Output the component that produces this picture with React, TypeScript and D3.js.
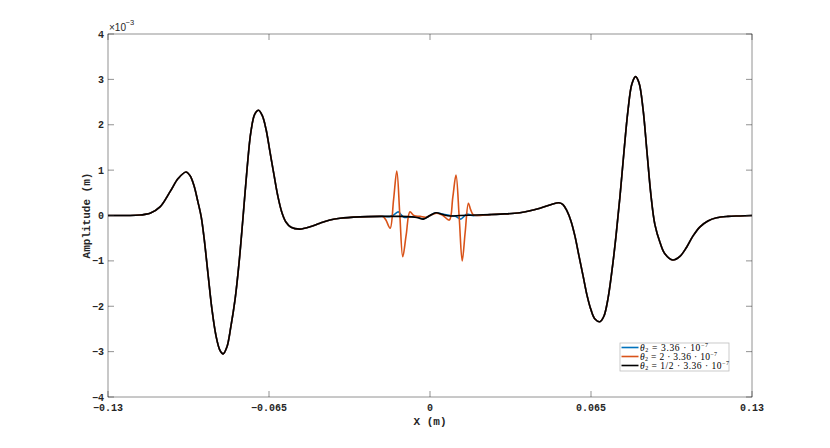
import React from "react";
import * as d3 from "d3";

// Shared outer wave (all three series coincide here), x in m, amplitude in 1e-3 m
const leftX = [-0.13, -0.1211, -0.1171, -0.1151, -0.113, -0.109, -0.105, -0.1016, -0.0985, -0.0969, -0.0953, -0.0937, -0.0924, -0.0912, -0.0896, -0.088, -0.0864, -0.0848, -0.0835, -0.082, -0.0804, -0.0787, -0.0771, -0.0755, -0.0739, -0.0723, -0.0707, -0.0692, -0.0677, -0.0662, -0.0646, -0.063, -0.0614, -0.0597, -0.0581, -0.0561, -0.0525, -0.0484, -0.0444, -0.0404, -0.0363, -0.0283, -0.0202];
const leftY = [0, 0, 0.01, 0.025, 0.05, 0.19, 0.52, 0.82, 0.96, 0.88, 0.66, 0.3, -0.02, -0.5, -1.3, -2.08, -2.65, -2.97, -3.05, -2.9, -2.45, -1.85, -1.05, -0.05, 1.0, 1.85, 2.24, 2.32, 2.2, 1.9, 1.4, 0.9, 0.42, 0.05, -0.15, -0.26, -0.3, -0.25, -0.17, -0.1, -0.06, -0.03, -0.02];

const rightX = [0.0242, 0.0283, 0.0363, 0.0444, 0.0493, 0.0521, 0.0537, 0.0553, 0.0569, 0.0585, 0.0601, 0.0618, 0.0634, 0.065, 0.0666, 0.0686, 0.0702, 0.0718, 0.0735, 0.0751, 0.0767, 0.0783, 0.0799, 0.0815, 0.083, 0.0844, 0.086, 0.0876, 0.0892, 0.0908, 0.0929, 0.0949, 0.098, 0.1009, 0.1036, 0.1062, 0.109, 0.1122, 0.1157, 0.1203, 0.1252, 0.13];
const rightY = [0.02, 0.03, 0.06, 0.16, 0.25, 0.28, 0.24, 0.1, -0.12, -0.45, -0.88, -1.33, -1.76, -2.08, -2.28, -2.34, -2.22, -1.85, -1.2, -0.45, 0.42, 1.4, 2.3, 2.9, 3.06, 2.92, 2.35, 1.4, 0.45, -0.2, -0.6, -0.85, -0.98, -0.9, -0.7, -0.45, -0.25, -0.12, -0.05, -0.02, -0.01, 0];

// Centre region, per series
const blueCX = [-0.019, -0.0161, -0.0145, -0.0128, -0.0117, -0.0105, -0.0081, -0.0057, -0.0027, 0.0, 0.0024, 0.0052, 0.0081, 0.0105, 0.0124, 0.0137, 0.0149, 0.017, 0.0186];
const blueCY = [-0.02, -0.02, 0.02, 0.08, 0.02, -0.04, -0.03, -0.03, -0.07, 0.0, 0.06, 0.03, 0.0, -0.02, -0.08, -0.02, 0.03, 0.0, 0.0];

const orangeCX = [-0.019, -0.0178, -0.0161, -0.0147, -0.0134, -0.0122, -0.011, -0.0096, -0.0081, -0.0065, -0.004, -0.0016, 0.0008, 0.0028, 0.0052, 0.0078, 0.0092, 0.0105, 0.0118, 0.013, 0.0142, 0.0155, 0.0164, 0.0174, 0.0186];
const orangeCY = [-0.02, -0.1, -0.28, 0.35, 0.98, 0.03, -0.91, -0.42, 0.08, 0.0, -0.02, -0.04, 0.02, 0.05, 0.0, -0.1, 0.4, 0.89, -0.05, -1.0, -0.37, 0.27, 0.13, 0.02, 0.0];

const blackCX = [-0.019, -0.0121, -0.0073, -0.0048, -0.0027, 0.0, 0.0024, 0.0052, 0.0081, 0.0121, 0.0186];
const blackCY = [-0.02, -0.02, -0.03, -0.05, -0.08, 0.0, 0.06, 0.02, -0.01, 0.0, 0.01];

const xTicks = [-0.13, -0.065, 0, 0.065, 0.13];
const xTickLabels = ["\u22120.13", "\u22120.065", "0", "0.065", "0.13"];
const yTicks = [4, 3, 2, 1, 0, -1, -2, -3, -4];
const yTickLabels = ["4", "3", "2", "1", "0", "\u22121", "\u22122", "\u22123", "\u22124"];

const seriesNames = ["3.36", "2 \u00b7 3.36", "1/2 \u00b7 3.36"];
const seriesColors = ["#0072BD", "#D95319", "#000000"];
const legendWidths = [68, 77, 89];

function build(cx: number[], cy: number[]): [number, number][] {
  const pts: [number, number][] = [];
  leftX.forEach((x, i) => pts.push([x, leftY[i]]));
  cx.forEach((x, i) => pts.push([x, cy[i]]));
  rightX.forEach((x, i) => pts.push([x, rightY[i]]));
  return pts;
}

export default function App() {
  const W = 830, H = 448;
  const x0 = 108, x1 = 752, y0 = 34, y1 = 397;
  const x = d3.scaleLinear().domain([-0.13, 0.13]).range([x0, x1]);
  const y = d3.scaleLinear().domain([-4, 4]).range([y1, y0]);
  const line = d3
    .line<[number, number]>()
    .x((d) => x(d[0]))
    .y((d) => y(d[1]))
    .curve(d3.curveCatmullRom.alpha(0.5));

  const series = [build(blueCX, blueCY), build(orangeCX, orangeCY), build(blackCX, blackCY)];
  const mono = "'Liberation Mono', 'DejaVu Sans Mono', monospace";
  const serif = "'Liberation Serif', 'DejaVu Serif', serif";
  const tickLen = 6;
  const axisColor = "#262626";

  const legX = 620, legY = 343, legW = 109, legH = 28;
  const rowY = [347.5, 356.5, 365.5];

  return (
    <svg width={W} height={H} style={{ position: "absolute", left: 0, top: 0, background: "#fff" }}>
      <rect x={0} y={0} width={W} height={H} fill="#fff" />
      {series.map((s, i) => (
        <path key={i} d={line(s) || ""} fill="none" stroke={seriesColors[i]} strokeWidth={1.6} strokeLinejoin="round" />
      ))}
      <rect x={x0} y={y0} width={x1 - x0} height={y1 - y0} fill="none" stroke={axisColor} strokeWidth={0.5} />
      {xTicks.map((t, i) => (
        <g key={"xt" + i}>
          <line x1={x(t)} x2={x(t)} y1={y1} y2={y1 - tickLen} stroke={axisColor} strokeWidth={0.5} />
          <line x1={x(t)} x2={x(t)} y1={y0} y2={y0 + tickLen} stroke={axisColor} strokeWidth={0.5} />
          <text x={x(t)} y={411} textAnchor="middle" fontFamily={mono} fontWeight="bold" fontSize={10} fill={axisColor}>
            {xTickLabels[i]}
          </text>
        </g>
      ))}
      {yTicks.map((t, i) => (
        <g key={"yt" + i}>
          <line x1={x0} x2={x0 + tickLen} y1={y(t)} y2={y(t)} stroke={axisColor} strokeWidth={0.5} />
          <line x1={x1} x2={x1 - tickLen} y1={y(t)} y2={y(t)} stroke={axisColor} strokeWidth={0.5} />
          <text x={104} y={y(t) + 3.5} textAnchor="end" fontFamily={mono} fontWeight="bold" fontSize={10} fill={axisColor}>
            {yTickLabels[i]}
          </text>
        </g>
      ))}
      <text x={109} y={31} fontFamily="'Liberation Sans', Arial, sans-serif" fontSize={10} fill={axisColor}>
        ×10
      </text>
      <text x={125.5} y={25} fontFamily="'Liberation Sans', Arial, sans-serif" fontSize={7.5} fill={axisColor}>
        −3
      </text>
      <text x={430} y={425} textAnchor="middle" fontFamily={mono} fontWeight="bold" fontSize={11} fill={axisColor}>
        X (m)
      </text>
      <text
        transform={`translate(90, ${(y0 + y1) / 2}) rotate(-90)`}
        textAnchor="middle"
        fontFamily={mono}
        fontWeight="bold"
        fontSize={11}
        fill={axisColor}
      >
        Amplitude (m)
      </text>
      <rect x={legX} y={legY} width={legW} height={legH} fill="#fff" stroke="#bdbdbd" strokeWidth={0.8} />
      {seriesNames.map((n, i) => (
        <g key={"lg" + i}>
          <line x1={621.5} x2={638.5} y1={rowY[i]} y2={rowY[i]} stroke={seriesColors[i]} strokeWidth={1.6} />
          <text
            x={640}
            y={rowY[i] + 3}
            fontFamily={serif}
            fontSize={9.5}
            fill="#000"
            textLength={legendWidths[i]}
            lengthAdjust="spacing"
          >
            <tspan fontStyle="italic">θ</tspan>
            <tspan fontSize={6} dy={1.5}>2</tspan>
            <tspan dy={-1.5}>{" = " + n + " \u00b7 10"}</tspan>
            <tspan fontSize={6} dy={-3.5}>−7</tspan>
          </text>
        </g>
      ))}
    </svg>
  );
}
